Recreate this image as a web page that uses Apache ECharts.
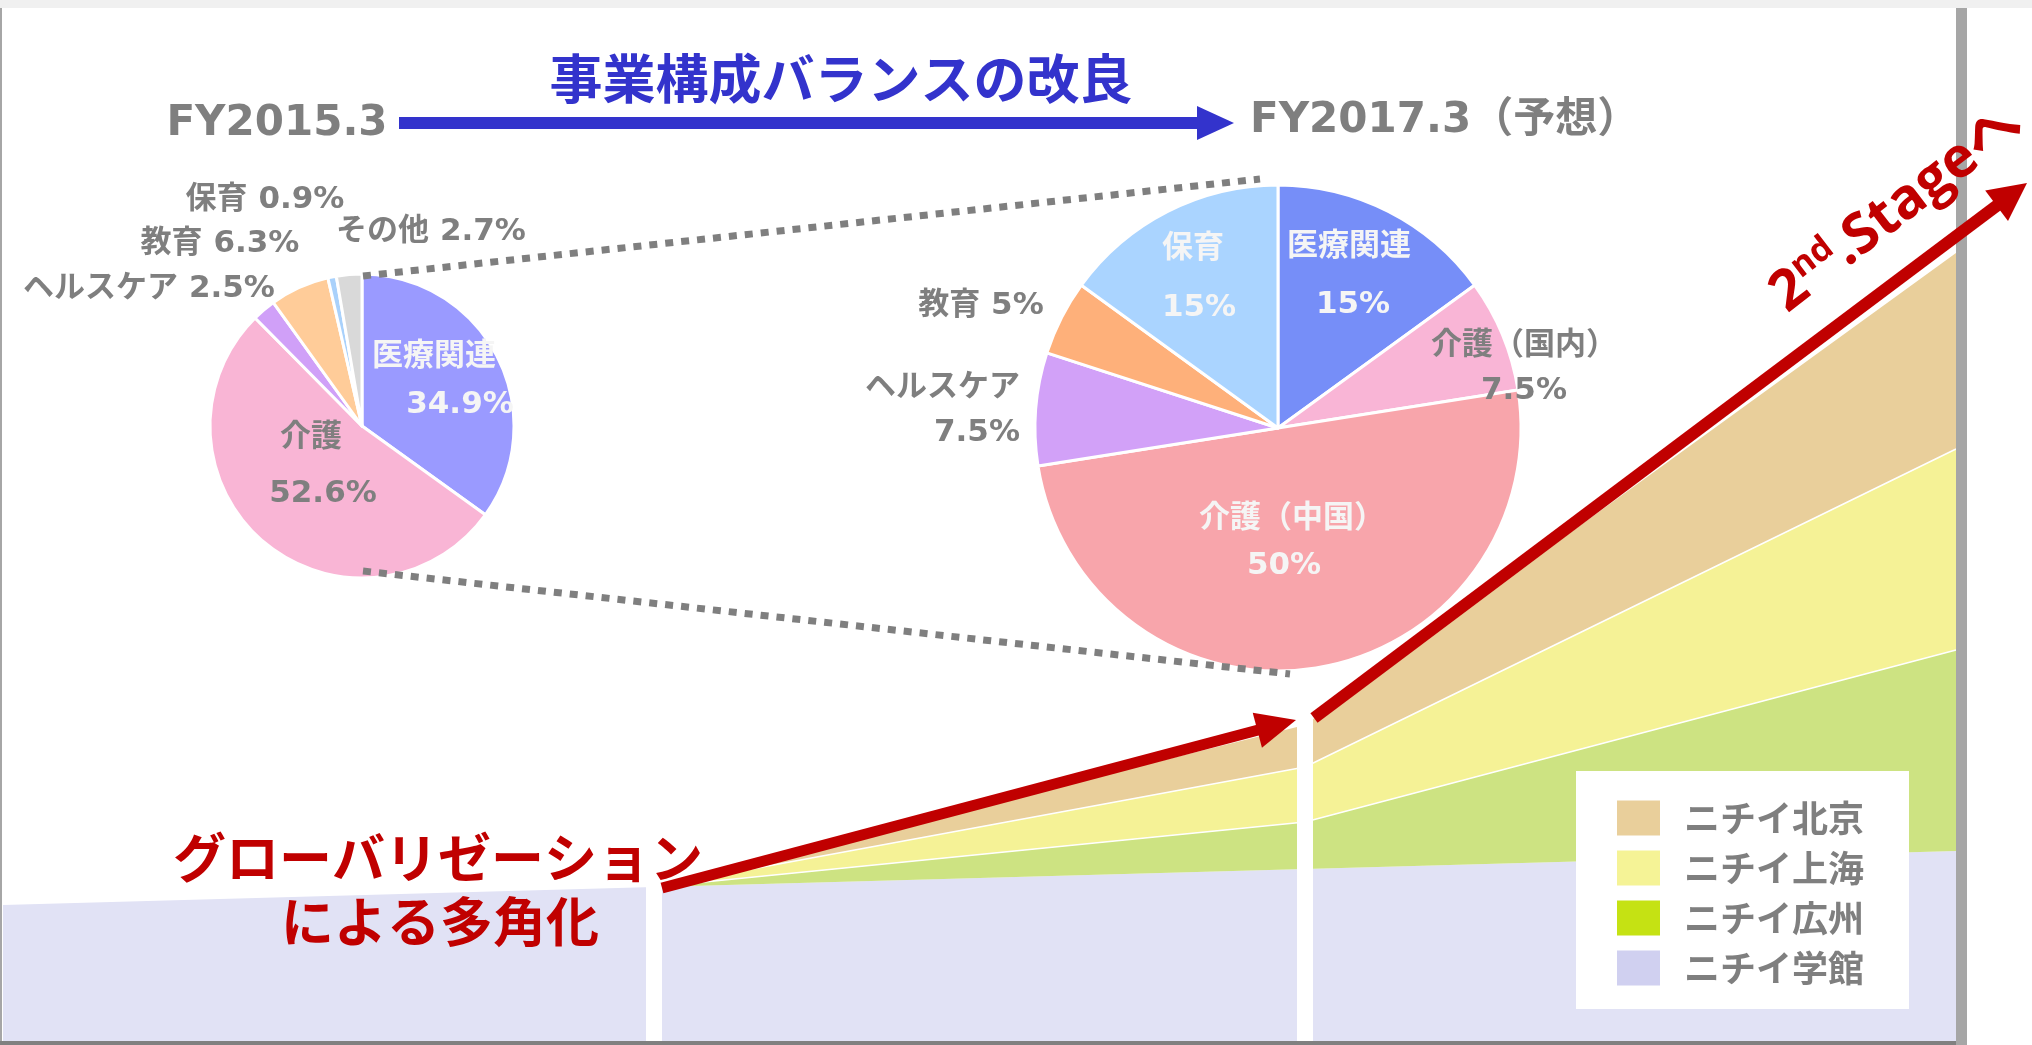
<!DOCTYPE html>
<html>
<head>
<meta charset="utf-8">
<script src="https://cdn.jsdelivr.net/npm/echarts/dist/echarts.min.js"></script>
<style>
html,body{margin:0;padding:0;background:#fff;}
#c{width:2032px;height:1045px;}
</style>
</head>
<body>
<div id="c"></div>
<script>
// ---------------- DATA ----------------
// hidden category axis of the stacked area (four periods)
const periods = ['P1', 'P2', 'P3', 'P4'];
const seriesNames = ['ニチイ学館', 'ニチイ広州', 'ニチイ上海', 'ニチイ北京'];
const gakkan    = [13.6, 15.4, 17.2, 19.0];
const guangzhou = [null, 0, 4.7, 20.1];
const shanghai  = [null, 0, 5.5, 20.1];
const beijing   = [null, 0, 4.2, 19.6];
const legendOrder = ['ニチイ北京', 'ニチイ上海', 'ニチイ広州', 'ニチイ学館'];

const pie2015Names  = ['医療関連', '介護', 'ヘルスケア', '教育', '保育', 'その他'];
const pie2015Values = [34.9, 52.6, 2.5, 6.3, 0.9, 2.7];
const pie2017Names  = ['医療関連', '介護（国内）', '介護（中国）', 'ヘルスケア', '教育', '保育'];
const pie2017Values = [15, 7.5, 50, 7.5, 5, 15];

const titleText = '事業構成バランスの改良';
const fromText = 'FY2015.3';
const toText = 'FY2017.3（予想）';
const globalLines = ['グローバリゼーション', 'による多角化'];

// ---------------- STYLE ----------------
const FONT_LATIN = '"DejaVu Sans","Noto Sans CJK JP",sans-serif';
const FONT_JP = '"Noto Sans CJK JP","DejaVu Sans",sans-serif';
const GRAY = '#7f7f7f';
const WHITE = '#f5f5f5';
const RED = '#c00000';
const BLUE = '#3333cc';

const areaColors = ['#e1e2f5', '#cde382', '#f5f296', '#e9cf9b'];
const swatchColors = {'ニチイ北京': '#e9cf9b', 'ニチイ上海': '#f5f396', 'ニチイ広州': '#c5e213', 'ニチイ学館': '#d0d0f0'};
const topLineWidth = [0, 1.5, 1.5, 0];

const pie2015Colors = ['#9a9aff', '#f9b5d5', '#d0a0f8', '#ffcc99', '#a9d1fb', '#d9d9d9'];
const pie2017Colors = ['#768ef8', '#f9b5d6', '#f8a5ab', '#d2a1f8', '#feb07a', '#aad4ff'];

// label placement (layout only)
const lay2015 = [
  {x: 447, y: 381, lh: 48, d: [-13, 13], c: WHITE},
  {x: 317, y: 466, lh: 56, d: [-6, 6], c: GRAY},
  {x: 149, y: 289, one: true, c: GRAY},
  {x: 220, y: 244, one: true, c: GRAY},
  {x: 265, y: 200, one: true, c: GRAY},
  {x: 431, y: 232, one: true, c: GRAY}
];
const lay2017 = [
  {x: 1351, y: 276, lh: 58, d: [-2, 2], c: WHITE},
  {x: 1524, y: 368, lh: 45, d: [0, 0], c: GRAY},
  {x: 1288, y: 542, lh: 47, d: [4, -4], c: WHITE},
  {x: 1020, y: 410, lh: 45, d: [0, 0], c: GRAY, align: 'right'},
  {x: 981, y: 306, one: true, c: GRAY},
  {x: 1196, y: 278, lh: 59, d: [-3, 3], c: WHITE}
];

function pad(dx) { return dx >= 0 ? [0, 0, 0, 2 * dx] : [0, -2 * dx, 0, 0]; }
function richFor(L) {
  const base = {fontSize: 31, fontWeight: 'bold', fontFamily: FONT_LATIN, color: L.c};
  if (L.one) return {n: Object.assign({}, base, {lineHeight: 36})};
  return {
    n: Object.assign({}, base, {lineHeight: L.lh, padding: pad(L.d[0])}),
    p: Object.assign({}, base, {lineHeight: L.lh, padding: pad(L.d[1])})
  };
}
function buildPie(id, names, values, colors, lay, center, radius) {
  return {
    type: 'pie', id: id, center: center, radius: radius, startAngle: 90, clockwise: true,
    z: 6, silent: true, animation: false, avoidLabelOverlap: false,
    itemStyle: {borderColor: '#ffffff', borderWidth: 3},
    label: {
      show: true, position: 'outside', overflow: 'none',
      formatter: function (p) {
        const L = lay[p.dataIndex];
        return L.one ? '{n|' + p.name + ' ' + p.value + '%}' : '{n|' + p.name + '}\n{p|' + p.value + '%}';
      }
    },
    labelLine: {show: false},
    labelLayout: function (p) {
      const L = lay[p.dataIndex];
      return {x: L.x, y: L.y, align: L.align || 'center', verticalAlign: 'middle'};
    },
    emphasis: {disabled: true},
    data: names.map(function (n, i) {
      return {name: n, value: values[i], itemStyle: {color: colors[i]}, label: {rich: richFor(lay[i])}};
    })
  };
}

const areaData = [gakkan, guangzhou, shanghai, beijing];
const areaSeries = seriesNames.map(function (n, i) {
  return {
    name: n, type: 'line', stack: 'total', data: areaData[i],
    symbol: 'none', showSymbol: false, silent: true, z: 2,
    lineStyle: {color: '#ffffff', width: topLineWidth[i]},
    areaStyle: {color: areaColors[i], opacity: 1},
    itemStyle: {color: swatchColors[n]},
    emphasis: {disabled: true}
  };
});
areaSeries[0].markLine = {
  silent: true, z: 3, symbol: ['none', 'none'], label: {show: false}, animation: false,
  lineStyle: {color: '#ffffff', width: 16, type: 'solid'},
  emphasis: {disabled: true},
  data: [{xAxis: periods[1]}, {xAxis: periods[2]}]
};

const chart = echarts.init(document.getElementById('c'), null, {renderer: 'canvas', width: 2032, height: 1045});

chart.setOption({
  backgroundColor: '#ffffff',
  animation: false,
  grid: {left: 3, right: 76, top: 41, bottom: 4, outerBoundsMode: 'none'},
  xAxis: {type: 'category', data: periods, boundaryGap: false, show: false},
  yAxis: {type: 'value', min: 0, max: 100, show: false},
  legend: {
    orient: 'vertical', left: 1576, top: 771,
    padding: [29, 45, 23, 41], backgroundColor: '#ffffff',
    itemWidth: 43, itemHeight: 35, itemGap: 14, icon: 'rect',
    selectedMode: false,
    itemStyle: {borderWidth: 0},
    textStyle: {fontSize: 36, fontWeight: 'bold', fontFamily: FONT_JP, color: GRAY, lineHeight: 35, padding: [0, 0, 0, 19]},
    data: legendOrder.map(function (n) { return {name: n, itemStyle: {color: swatchColors[n], borderWidth: 0}}; })
  },
  series: areaSeries.concat([
    buildPie('p2015', pie2015Names, pie2015Values, pie2015Colors, lay2015, [362, 426], 152),
    buildPie('p2017', pie2017Names, pie2017Values, pie2017Colors, lay2017, [1278, 428], 243)
  ])
});

// ---------------- DECORATIONS ----------------
function arrow(x0, y0, x1, y1, w, headLen, headHalf, color) {
  const dx = x1 - x0, dy = y1 - y0, len = Math.hypot(dx, dy);
  const ux = dx / len, uy = dy / len, nx = -uy, ny = ux;
  const bx = x1 - ux * headLen, by = y1 - uy * headLen;
  return [
    {type: 'line', z: 100, silent: true, shape: {x1: x0, y1: y0, x2: bx + ux * 2, y2: by + uy * 2},
      style: {stroke: color, lineWidth: w, lineCap: 'butt'}},
    {type: 'polygon', z: 100, silent: true,
      shape: {points: [[x1, y1], [bx + nx * headHalf, by + ny * headHalf], [bx - nx * headHalf, by - ny * headHalf]]},
      style: {fill: color}}
  ];
}

const tops = periods.map(function (_, i) {
  return areaData.reduce(function (s, a) { return s + (a[i] || 0); }, 0);
});
const P = periods.map(function (c, i) {
  return chart.convertToPixel({xAxisIndex: 0, yAxisIndex: 0}, [c, tops[i]]);
});

const els = [
  // frame
  {type: 'rect', z: 50, silent: true, shape: {x: 0, y: 0, width: 2032, height: 8}, style: {fill: '#f0f0f0'}},
  {type: 'rect', z: 50, silent: true, shape: {x: 0, y: 8, width: 2, height: 1037}, style: {fill: '#a6a6a6'}},
  {type: 'rect', z: 50, silent: true, shape: {x: 1956, y: 8, width: 11, height: 1037}, style: {fill: '#a6a6a6'}},
  {type: 'rect', z: 50, silent: true, shape: {x: 0, y: 1041, width: 1956, height: 4}, style: {fill: '#808080'}},
  // title
  {type: 'text', z: 100, silent: true, x: 841, y: 79,
    style: {text: titleText, fill: BLUE, fontSize: 53, fontWeight: 'bold', fontFamily: FONT_JP, align: 'center', verticalAlign: 'middle'}},
  {type: 'text', z: 100, silent: true, x: 277, y: 124,
    style: {text: fromText, fill: GRAY, fontSize: 42, fontWeight: 'bold', fontFamily: FONT_LATIN, align: 'center', verticalAlign: 'middle'}},
  {type: 'text', z: 100, silent: true, x: 1250, y: 121,
    style: {text: toText, fill: GRAY, fontSize: 42, fontWeight: 'bold', fontFamily: FONT_LATIN, align: 'left', verticalAlign: 'middle'}},
  // dotted connectors
  {type: 'line', z: 100, silent: true, shape: {x1: 363, y1: 276, x2: 1260, y2: 179},
    style: {stroke: GRAY, lineWidth: 7, lineDash: [8, 8]}},
  {type: 'line', z: 100, silent: true, shape: {x1: 363, y1: 571, x2: 1290, y2: 674},
    style: {stroke: GRAY, lineWidth: 7, lineDash: [8, 8]}},
  // globalisation text
  {type: 'text', z: 100, silent: true, x: 438, y: 858,
    style: {text: globalLines[0], fill: RED, fontSize: 53, fontWeight: 'bold', fontFamily: FONT_JP, align: 'center', verticalAlign: 'middle'}},
  {type: 'text', z: 100, silent: true, x: 440, y: 922,
    style: {text: globalLines[1], fill: RED, fontSize: 53, fontWeight: 'bold', fontFamily: FONT_JP, align: 'center', verticalAlign: 'middle'}},
  // 2nd stage
  {type: 'text', z: 100, silent: true, x: 1897, y: 209, rotation: 0.655,
    style: {
      text: '{a|2}{b|nd}{a|.Stageへ}', align: 'center', verticalAlign: 'middle',
      rich: {
        a: {fontSize: 56, fontWeight: 'bold', fontFamily: '"Open Sans","Noto Sans CJK JP",sans-serif', fill: RED, color: RED, lineHeight: 60},
        b: {fontSize: 34, fontWeight: 'bold', fontFamily: '"Open Sans","Noto Sans CJK JP",sans-serif', fill: RED, color: RED, lineHeight: 38, verticalAlign: 'top'}
      }
    }}
];

// blue arrow between the two fiscal years
Array.prototype.push.apply(els, arrow(399, 123, 1234, 123, 12, 37, 17, BLUE));
// red growth arrows following the top of the stacked area
Array.prototype.push.apply(els, arrow(P[1][0] + 8, P[1][1] + 1, P[2][0] - 9, P[2][1] - 5, 11, 40, 18, RED));
Array.prototype.push.apply(els, arrow(P[2][0] + 9, P[2][1] - 7, P[3][0] + 71, P[3][1] - 70, 12, 38, 19, RED));

chart.setOption({graphic: {elements: els}});
</script>
</body>
</html>
